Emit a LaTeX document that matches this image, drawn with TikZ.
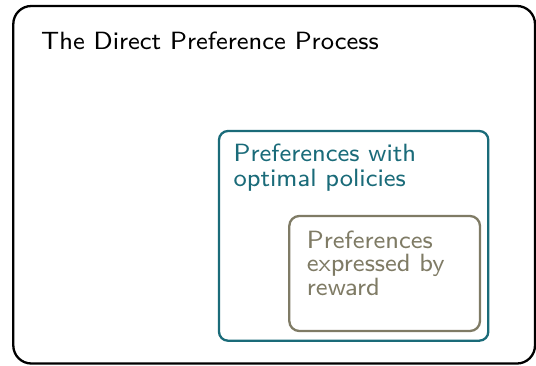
\documentclass[tikz,border=0pt]{standalone}
\definecolor{policyteal}{RGB}{26,107,121}
\definecolor{rewardolive}{RGB}{127,123,101}
\begin{document}
\begin{tikzpicture}[x=1pt,y=-1pt,
  frame/.style={line width=2.3pt,rounded corners=#1},
  label/.style={font=\sffamily\fontsize{8}{#1}\selectfont,scale=3.12,
    inner sep=0pt,anchor=base west,align=left},
  label/.default=8]
  \useasboundingbox (0,0) rectangle (536,365);
  % outer process frame
  \draw[frame=18pt,black] (13.3,6) rectangle (535,363.5);
  \node[label] (title) at (40.6,49) {The Direct Preference Process};
  % preferences with optimal policies (anchored at the last baseline)
  \draw[frame=9pt,policyteal] (219,131) rectangle (488.3,340.7);
  \node[label=8,text=policyteal] (optimal) at (233,186.7) {Preferences with\\optimal policies};
  % preferences expressed by reward (anchored at the last baseline)
  \draw[frame=10pt,rewardolive] (289.3,216) rectangle (480,331);
  \node[label=7.5,text=rewardolive] (reward) at (306.3,295) {Preferences\\expressed by\\reward};
\end{tikzpicture}
\end{document}
